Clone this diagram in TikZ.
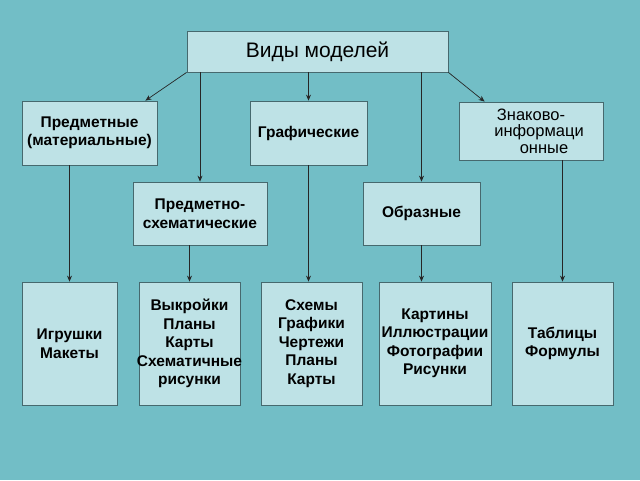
\documentclass[tikz,border=0pt]{standalone}
\usepackage{fontspec}
\setmainfont{Liberation Sans}
\usetikzlibrary{arrows.meta}
\definecolor{bgteal}{RGB}{114,190,198}
\definecolor{boxfill}{RGB}{190,226,230}
\definecolor{boxline}{RGB}{70,105,110}

\begin{document}
\begin{tikzpicture}[x=1pt, y=-1pt,
    main/.style = {draw=boxline, fill=boxfill, line width=0.8pt, inner sep=0pt, align=center,
      font=\fontsize{15.5}{18.5}\selectfont\bfseries},
    big/.style = {main, minimum width=#1, minimum height=123pt},
    arr/.style = {draw=black!85, line width=0.7pt, -{Stealth[length=6pt,width=5pt]}}]
			\fill[bgteal] (0,0) rectangle (640,480);
			\useasboundingbox (0,0) rectangle (640,480);
			% top
			\node[main, minimum width=261pt, minimum height=41pt, font=\fontsize{21}{24}\selectfont] (vid) at (317.5,51.5) {Виды моделей};
			% second row
			\node[main, minimum width=135pt, minimum height=64pt] (pred) at (89.5,133) {Предметные\\(материальные)};
			\node[main, minimum width=117pt, minimum height=64pt] (graf) at (308.5,133) {Графические};
			\node[main, minimum width=144pt, minimum height=58pt, font=\fontsize{16.5}{16.5}\selectfont] (znak) at (531,131) {Знаково-\\\hspace*{16pt}информаци\\\hspace*{26pt}онные};
			% third row
			\node[main, minimum width=134pt, minimum height=63pt] (psch) at (200,213.5) {Предметно-\\схематические};
			\node[main, minimum width=117pt, minimum height=63pt] (obr) at (421.5,213.5) {Образные};
			% bottom row
			\node[big=95pt] (igr) at (69.5,343.5) {Игрушки\\Макеты};
			\node[big=101pt, inner xsep=-4pt] (vyk) at (189.5,343.5) {Выкройки\\Планы\\Карты\\Схематичные\\рисунки};
			\node[big=101pt] (sxe) at (311.5,343.5) {Схемы\\Графики\\Чертежи\\Планы\\Карты};
			\node[big=112pt] (kar) at (435,343.5) {Картины\\Иллюстрации\\Фотографии\\Рисунки};
			\node[big=101pt] (tab) at (562.5,343.5) {Таблицы\\Формулы};
			% arrows
			\draw[arr] (vid.south west) -- ([xshift=-12pt]pred.north east);
			\draw[arr] (psch.north |- vid.south) -- (psch.north);
			\draw[arr] (graf.north |- vid.south) -- (graf.north);
			\draw[arr] (obr.north |- vid.south) -- (obr.north);
			\draw[arr] (vid.south east) -- ([xshift=26pt]znak.north west);
			\draw[arr] (igr.north |- pred.south) -- (igr.north);
			\draw[arr] (vyk.north |- psch.south) -- (vyk.north);
			\draw[arr] (graf.south) -- (graf.south |- sxe.north);
			\draw[arr] (obr.south) -- (obr.south |- kar.north);
			\draw[arr] (tab.north |- znak.south) -- (tab.north);
		\end{tikzpicture}
\end{document}
